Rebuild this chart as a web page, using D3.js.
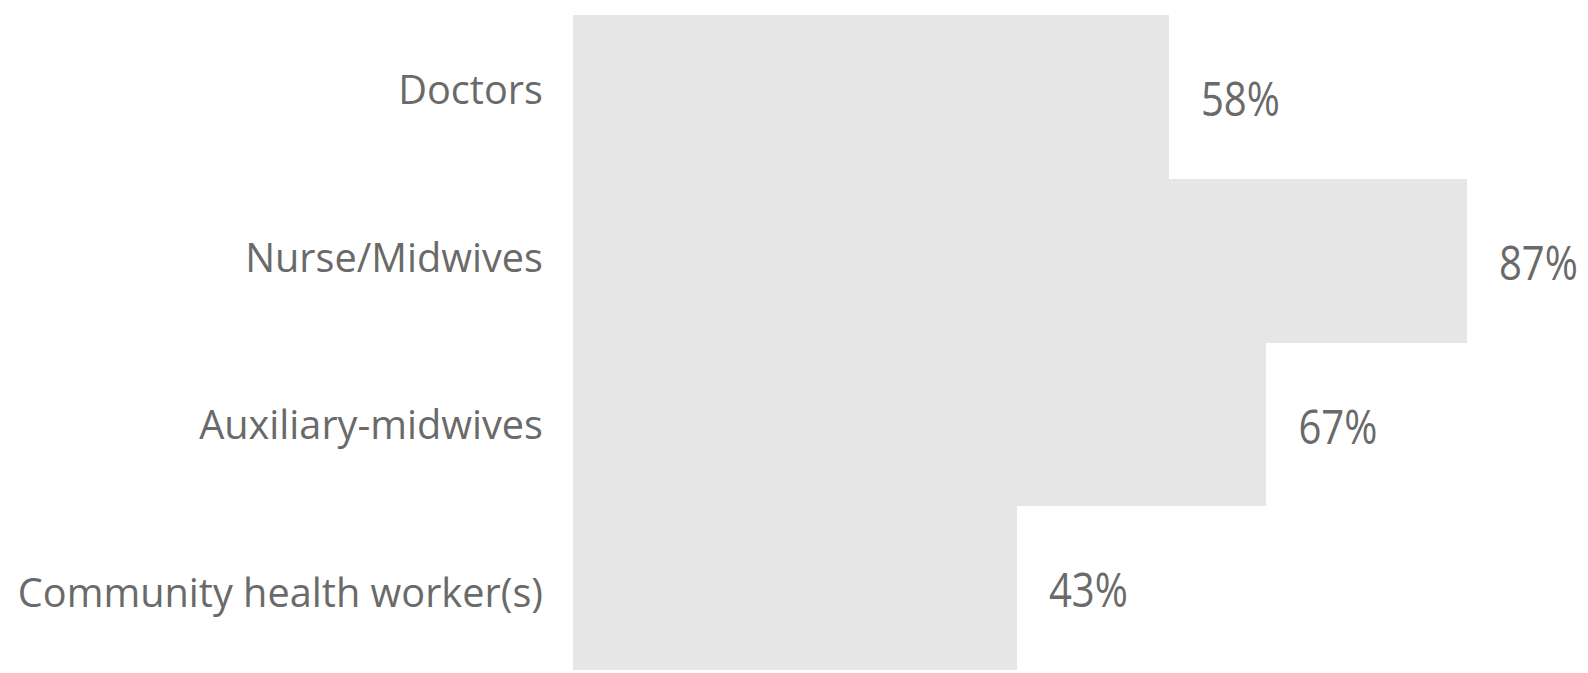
<!DOCTYPE html>
<html>
<head>
<meta charset="utf-8">
<script src="https://cdn.jsdelivr.net/npm/d3@7"></script>
<style>
  html, body { margin: 0; padding: 0; background: #ffffff; }
  svg { display: block; }
</style>
</head>
<body>
<svg id="chart" width="1588" height="673"></svg>
<script>
// Data
const categories = ["Doctors", "Nurse/Midwives", "Auxiliary-midwives", "Community health worker(s)"];
const values = [0.58, 0.87, 0.6749, 0.432];

const W = 1588, H = 673;
const svg = d3.select("#chart");

const x = d3.scaleLinear().domain([0, 1]).range([573, 1600.5]);
const y = d3.scaleBand().domain(categories).range([15, 670]).padding(0);
const yLabel = y.copy().range([20, 690]);

const data = categories.map((c, i) => ({ cat: c, v: values[i] }));
const fmt = d3.format(".0%");

svg.append("g")
  .attr("shape-rendering", "crispEdges")
  .selectAll("rect")
  .data(data).join("rect")
  .attr("x", x(0))
  .attr("y", d => Math.round(y(d.cat)))
  .attr("width", d => x(d.v) - x(0))
  .attr("height", d => Math.round(y(d.cat) + y.bandwidth()) - Math.round(y(d.cat)))
  .attr("fill", "#e6e6e6");

// category labels
svg.append("g").selectAll("text")
  .data(data).join("text")
  .attr("transform", d => `translate(543, ${yLabel(d.cat) + yLabel.bandwidth() / 2 + 0.5}) scale(0.968,1)`)
  .attr("text-anchor", "end")
  .attr("font-family", "'Open Sans', sans-serif")
  .attr("font-size", 41)
  .attr("fill", "#6a6a6a")
  .text(d => d.cat);

// value labels
svg.append("g").selectAll("text")
  .data(data).join("text")
  .attr("transform", d => `translate(${x(d.v) + 32}, ${y(d.cat) + y.bandwidth() / 2 + 19.3}) scale(0.835,1)`)
  .attr("text-anchor", "start")
  .attr("font-family", "'Open Sans', sans-serif")
  .attr("font-size", 48)
  .attr("fill", "#6a6a6a")
  .text(d => fmt(d.v));
</script>
</body>
</html>
